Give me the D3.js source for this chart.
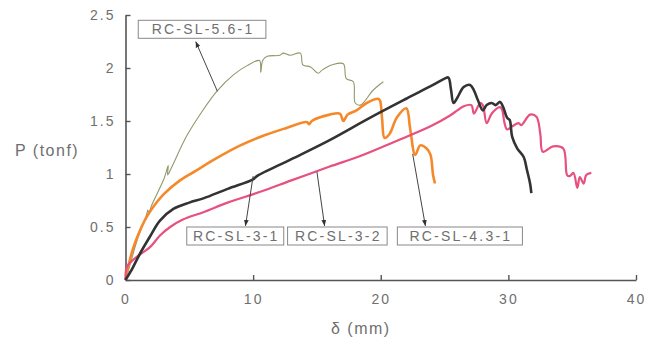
<!DOCTYPE html>
<html>
<head>
<meta charset="utf-8">
<script src="https://cdn.jsdelivr.net/npm/d3@7"></script>
<style>
  body { margin: 0; background: #fff; }
  svg text { font-family: "Liberation Sans", Arial, sans-serif; fill: #6f6f6f; }
</style>
</head>
<body>
<div id="chart"></div>
<script>
// load-displacement curves, [delta (mm), P (tonf)]
let sl561 = [[0,0],[0.3,0.12],[0.9,0.37],[1.66,0.62],[1.75,0.66],[1.85,0.62],[2.0,0.69],[3.0,0.95],[3.35,1.08],
  [3.3,0.99],[3.6,1.06],[4.8,1.36],[6,1.59],[7.15,1.78],[8.5,1.94],[9.5,2.02],[10.5,2.07],[10.6,1.96],[10.75,2.07],
  [11.1,2.11],[12.1,2.12],[12.35,2.14],[12.9,2.12],[13.7,2.14],[13.9,2.03],[14.5,2.01],[15.1,1.95],[15.4,1.98],
  [16.2,2.03],[17.07,2.04],[17.3,1.90],[17.85,1.87],[18.0,1.67],[18.4,1.65],[19.4,1.79],[20.2,1.87]]
let sl32 = [[0,0],[0.3,0.17],[0.6,0.3],[1,0.43],[1.5,0.56],[2,0.66],[3,0.81],[4.27,0.94],[5.5,1.03],[7,1.14],
  [9,1.27],[11,1.37],[12.5,1.43],[14.2,1.49],[14.4,1.47],[14.6,1.50],[16.0,1.56],[16.8,1.57],[17.07,1.50],[17.4,1.56],
  [18.1,1.60],[18.9,1.67],[19.8,1.71],[19.95,1.69],[20.1,1.53],[20.3,1.34],[20.7,1.38],[21.25,1.53],[22.0,1.62],
  [22.3,1.43],[22.7,1.18],[23.1,1.27],[23.6,1.24],[23.9,1.18],[24.1,0.99],[24.25,0.91]]
let sl31 = [[0,0],[0.5,0.1],[1.14,0.25],[1.92,0.41],[2.7,0.56],[3.75,0.67],[5,0.73],[6.1,0.77],[8,0.86],[10,0.95],
  [10.3,0.98],[13,1.14],[16,1.32],[19,1.52],[22,1.71],[24.1,1.84],[25.0,1.90],[25.3,1.91],[25.5,1.80],[25.7,1.67],
  [26.0,1.72],[26.5,1.82],[27.0,1.84],[27.3,1.79],[27.6,1.70],[28.0,1.60],[28.3,1.65],[28.7,1.67],[29.0,1.65],
  [29.35,1.68],[29.6,1.63],[29.9,1.53],[30.1,1.51],[30.3,1.35],[30.7,1.24],[31.2,1.16],[31.45,1.04],[31.7,0.91],[31.8,0.82]]
let sl431 = [[0,0],[0.1,0.12],[0.5,0.18],[1,0.23],[1.92,0.31],[2.7,0.42],[3.5,0.50],[4.5,0.57],[6.1,0.64],[8,0.73],
  [10.5,0.83],[13,0.94],[16,1.07],[18.4,1.17],[21,1.30],[23.9,1.45],[25.4,1.55],[26.0,1.60],[26.5,1.64],[27.1,1.65],
  [27.3,1.57],[27.8,1.67],[28.0,1.65],[28.3,1.48],[28.7,1.57],[29.35,1.63],[29.5,1.61],[29.7,1.48],[29.9,1.42],
  [30.3,1.45],[30.8,1.48],[31.0,1.46],[31.7,1.56],[32.2,1.54],[32.5,1.38],[32.7,1.21],[33.5,1.26],[34.3,1.24],
  [34.6,0.99],[34.8,0.98],[35.1,1.01],[35.4,0.87],[35.6,0.97],[35.9,0.91],[36.1,0.99],[36.5,1.01]]

let xTicks = [0, 10, 20, 30, 40]
let yTicks = [0, 0.5, 1, 1.5, 2, 2.5]
let seriesNames = ["RC-SL-5.6-1", "RC-SL-3-2", "RC-SL-3-1", "RC-SL-4.3-1"]
// label boxes: name, box corner in data units, arrow start point in data units
let labelNames = ["RC-SL-5.6-1", "RC-SL-3-1", "RC-SL-3-2", "RC-SL-4.3-1"]
let labelBoxes = [[1.0, 2.45, 10.0], [4.8, 0.5, 7.6], [12.7, 0.5, 7.8], [21.3, 0.5, 9.8]]
let arrowFrom = [[7.2, 1.78], [10.0, 0.98], [15.0, 1.02], [22.5, 1.19]]
let arrowTo = [[5.5, 2.25], [9.4, 0.51], [15.6, 0.51], [23.5, 0.51]]

let width = 661, height = 338
let margin = {top: 15, right: 25, bottom: 58, left: 125.5}
let w = width - margin.left - margin.right
let h = height - margin.top - margin.bottom

let x = d3.scaleLinear().domain([0, 40]).range([0, w])
let y = d3.scaleLinear().domain([0, 2.5]).range([h, 0])

let color = d3.scaleOrdinal()
    .domain(seriesNames)
    .range(["#8e9a6a", "#f5892a", "#333333", "#e7517f"])
let strokeW = {"RC-SL-5.6-1": 1.1, "RC-SL-3-2": 2.6, "RC-SL-3-1": 2.6, "RC-SL-4.3-1": 2.2}

let svg = d3.select('#chart')
    .append('svg')
    .attr('width', width)
    .attr('height', height)

svg.append('defs').append('marker')
    .attr('id', 'head')
    .attr('viewBox', '0 0 10 10')
    .attr('refX', 10).attr('refY', 5)
    .attr('markerWidth', 6).attr('markerHeight', 6)
    .attr('markerUnits', 'userSpaceOnUse')
    .attr('orient', 'auto')
    .append('path')
    .attr('d', 'M0,1 L10,5 L0,9 Z')
    .attr('fill', '#333')

let g = svg.append('g')
    .attr('transform', "translate(" + margin.left + "," + margin.top + ")")

let xAxis = d3.axisBottom(x).tickValues(xTicks).tickSizeInner(-5).tickSizeOuter(0).tickPadding(14)
let yAxis = d3.axisLeft(y).tickValues(yTicks).tickSizeInner(-5).tickSizeOuter(0).tickPadding(12)
    .tickFormat(d3.format(""))

let gx = g.append('g')
    .attr("transform", "translate(0," + h + ")")
    .call(xAxis)
let gy = g.append('g').call(yAxis)

;[gx, gy].forEach(a => {
    a.select('.domain').attr('stroke', '#555').attr('stroke-width', 1.6)
    a.selectAll('.tick line').attr('stroke', '#555').attr('stroke-width', 1.4)
    a.selectAll('.tick text')
        .attr('fill', '#6f6f6f')
        .style('font-size', '14px')
        .style('letter-spacing', '2px')
        .style('font-family', '"Liberation Sans", Arial, sans-serif')
})
gy.selectAll('.tick text').attr('dx', '2px')

// smooth through the points without overshoot on the jagged parts
let line = d3.line()
    .x(d => x(d[0])).y(d => y(d[1]))
    .curve(d3.curveCatmullRom.alpha(0.5))

let curves = [sl561, sl32, sl31, sl431]
// draw the thin one first, black and pink on top
;[0, 1, 3, 2].forEach(i => {
    g.append('path')
        .datum(curves[i])
        .attr('d', line)
        .attr('fill', 'none')
        .attr('stroke', color(seriesNames[i]))
        .attr('stroke-width', strokeW[seriesNames[i]])
        .attr('stroke-linejoin', 'round')
})

// arrows
arrowFrom.forEach((a, i) => {
    g.append('line')
        .attr('x1', x(a[0])).attr('y1', y(a[1]))
        .attr('x2', x(arrowTo[i][0])).attr('y2', y(arrowTo[i][1]))
        .attr('stroke', '#444')
        .attr('stroke-width', 1)
        .attr('marker-end', 'url(#head)')
})

// label boxes
labelBoxes.forEach((b, i) => {
    let bx = x(b[0]), by = y(b[1]), bw = x(b[2]) - x(0)
    g.append('rect')
        .attr('x', bx).attr('y', by)
        .attr('width', bw).attr('height', 18)
        .attr('fill', '#fff')
        .attr('stroke', '#888')
        .attr('stroke-width', 1)
    g.append('text')
        .attr('x', bx + bw / 2 + 1).attr('y', by + 14)
        .attr('text-anchor', 'middle')
        .style('font-size', '14px')
        .style('letter-spacing', '2.2px')
        .text(labelNames[i])
})

svg.append('text')
    .attr('x', 15).attr('y', 156)
    .style('font-size', '16px')
    .style('letter-spacing', '1.5px')
    .text("P (tonf)")

svg.append('text')
    .attr('x', 331).attr('y', 334)
    .style('font-size', '16px')
    .style('letter-spacing', '1.5px')
    .text("δ (mm)")
</script>
</body>
</html>
